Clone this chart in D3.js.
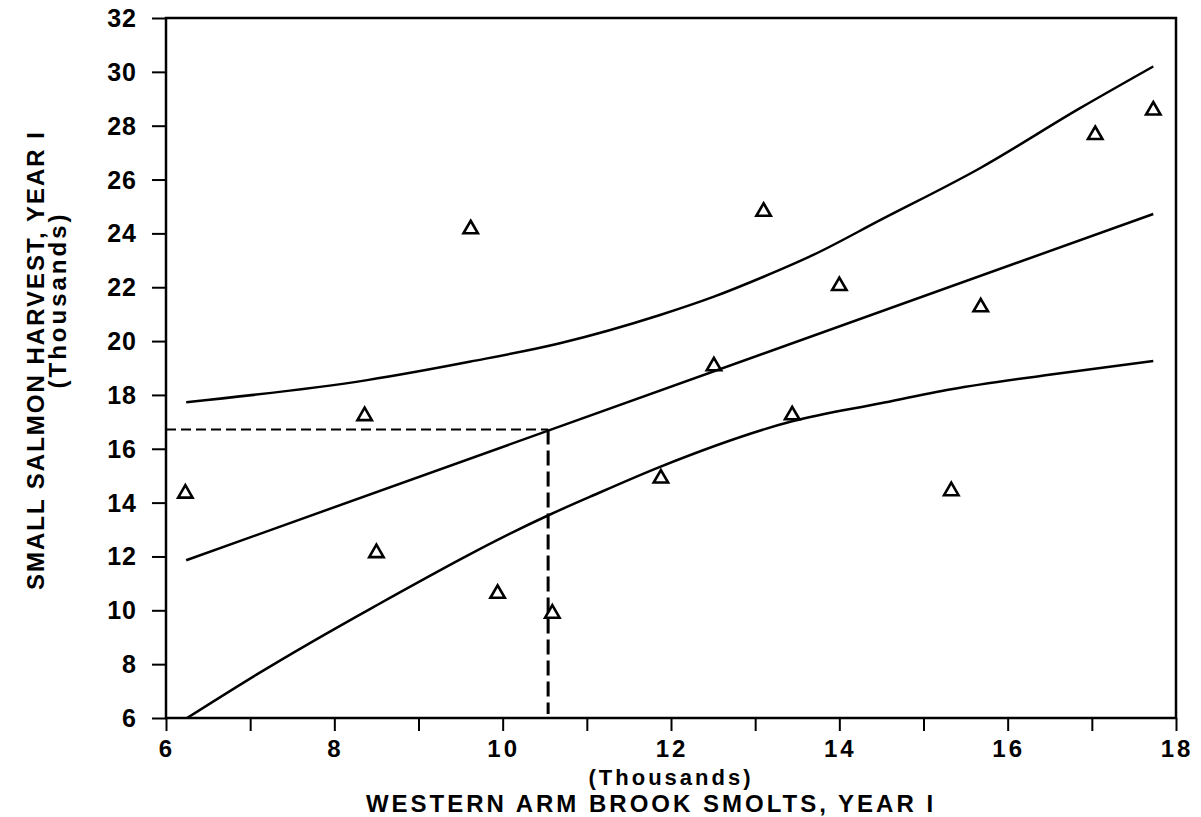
<!DOCTYPE html>
<html>
<head>
<meta charset="utf-8">
<script src="https://cdn.jsdelivr.net/npm/d3@7"></script>
<style>
  body { margin: 0; background: #fff; }
  text { font-family: "Liberation Sans", Arial, sans-serif; fill: #000; }
</style>
</head>
<body>
<div id="chart"></div>
<script>
// punkty pomiarowe (tys. smoltow, tys. ryb)
const smolts  = [6.23, 8.36, 8.50, 9.62, 9.94, 10.59, 11.88, 12.51, 13.10, 13.44, 14.00, 15.33, 15.68, 17.04, 17.73];
const harvest = [14.34, 17.22, 12.13, 24.16, 10.62, 9.88, 14.90, 19.07, 24.81, 17.25, 22.05, 14.43, 21.26, 27.66, 28.57];

// linia regresji
const fitX = [6.24, 17.73];
const fitY = [11.86, 24.72];

// gorna i dolna granica przedzialu ufnosci
const upperX = [6.24, 8.39, 9.62, 10.68, 11.87, 12.51, 13.10, 13.69, 14.49, 15.67, 16.86, 17.73];
const upperY = [17.73, 18.55, 19.24, 19.92, 20.97, 21.65, 22.39, 23.20, 24.50, 26.42, 28.65, 30.20];
const lowerX = [6.25, 7.08, 8.47, 10.55, 11.04, 11.87, 13.44, 14.49, 15.33, 16.47, 17.73];
const lowerY = [6.00, 7.62, 10.13, 13.54, 14.22, 15.33, 17.02, 17.69, 18.21, 18.74, 19.26];

// odczyt prognozy (linie przerywane)
const projX = 10.54;
const projY = 16.72;

const xTicks = [6, 7, 8, 9, 10, 11, 12, 13, 14, 15, 16, 17, 18];
const xLabels = [6, 8, 10, 12, 14, 16, 18];
const yTicks = [6, 8, 10, 12, 14, 16, 18, 20, 22, 24, 26, 28, 30, 32];

const width = 1201, height = 817;
const m = { left: 166, right: 1176, top: 18, bottom: 718 };

const svg = d3.select("#chart").append("svg")
  .attr("width", width)
  .attr("height", height);

const x = d3.scaleLinear().domain([6, 18]).range([m.left, m.right]);
const y = d3.scaleLinear().domain([6, 32]).range([m.bottom, m.top]);

// os X - kreski w dol
const xAxis = svg.append("g")
  .attr("transform", `translate(0,${m.bottom})`)
  .call(d3.axisBottom(x).tickValues(xTicks).tickSize(13).tickFormat(""));
xAxis.select(".domain").remove();
xAxis.selectAll("line").attr("stroke", "#000").attr("stroke-width", 2);

svg.selectAll(".xlab")
  .data(xLabels)
  .join("text")
  .attr("class", "xlab")
  .attr("x", d => x(d) + 1)
  .attr("y", 757)
  .attr("text-anchor", "middle")
  .attr("font-size", 24)
  .attr("font-weight", "bold")
  .attr("letter-spacing", 3)
  .text(d => d);

// os Y - kreski w lewo
const yAxis = svg.append("g")
  .attr("transform", `translate(${m.left},0)`)
  .call(d3.axisLeft(y).tickValues(yTicks).tickSize(14).tickFormat(""));
yAxis.select(".domain").remove();
yAxis.selectAll("line").attr("stroke", "#000").attr("stroke-width", 2);

svg.selectAll(".ylab")
  .data(yTicks)
  .join("text")
  .attr("class", "ylab")
  .attr("x", 137)
  .attr("y", d => y(d) + 9)
  .attr("text-anchor", "end")
  .attr("font-size", 25)
  .attr("font-weight", "bold")
  .attr("letter-spacing", 1)
  .text(d => d);

// ramka
svg.append("rect")
  .attr("x", m.left).attr("y", m.top)
  .attr("width", m.right - m.left).attr("height", m.bottom - m.top)
  .attr("fill", "none")
  .attr("stroke", "#000")
  .attr("stroke-width", 2.5);

const line = d3.line().x(d => x(d[0])).y(d => y(d[1]));
const smooth = d3.line().x(d => x(d[0])).y(d => y(d[1])).curve(d3.curveMonotoneX);

svg.append("path")
  .attr("d", line(fitX.map((v, i) => [v, fitY[i]])))
  .attr("fill", "none").attr("stroke", "#000").attr("stroke-width", 2.5);

svg.append("path")
  .attr("d", smooth(upperX.map((v, i) => [v, upperY[i]])))
  .attr("fill", "none").attr("stroke", "#000").attr("stroke-width", 2.5);

svg.append("path")
  .attr("d", smooth(lowerX.map((v, i) => [v, lowerY[i]])))
  .attr("fill", "none").attr("stroke", "#000").attr("stroke-width", 2.5);

// linie przerywane
svg.append("line")
  .attr("x1", x(6)).attr("x2", x(projX))
  .attr("y1", y(projY)).attr("y2", y(projY))
  .attr("stroke", "#000").attr("stroke-width", 2)
  .attr("stroke-dasharray", "10,5");

svg.append("line")
  .attr("x1", x(projX)).attr("x2", x(projX))
  .attr("y1", y(projY)).attr("y2", y(6) - 4)
  .attr("stroke", "#000").attr("stroke-width", 3)
  .attr("stroke-dasharray", "15,6");

// trojkaty
const tri = d3.symbol().type(d3.symbolTriangle).size(90);
svg.selectAll(".pt")
  .data(smolts.map((v, i) => [v, harvest[i]]))
  .join("path")
  .attr("class", "pt")
  .attr("d", tri)
  .attr("transform", d => `translate(${x(d[0])},${y(d[1])})`)
  .attr("fill", "none")
  .attr("stroke", "#000")
  .attr("stroke-width", 2.6);

// opisy osi
svg.append("text")
  .attr("x", 671).attr("y", 785)
  .attr("text-anchor", "middle")
  .attr("font-size", 22).attr("font-weight", "bold")
  .attr("letter-spacing", 3)
  .text("(Thousands)");

svg.append("text")
  .attr("x", 651).attr("y", 812)
  .attr("text-anchor", "middle")
  .attr("font-size", 24).attr("font-weight", "bold")
  .attr("letter-spacing", 3)
  .text("WESTERN ARM BROOK SMOLTS, YEAR I");

svg.append("text")
  .attr("transform", "translate(44,360) rotate(-90)")
  .attr("text-anchor", "middle")
  .attr("font-size", 24).attr("font-weight", "bold")
  .attr("letter-spacing", 2)
  .text("SMALL SALMON HARVEST, YEAR I");

svg.append("text")
  .attr("transform", "translate(66,300) rotate(-90)")
  .attr("text-anchor", "middle")
  .attr("font-size", 24).attr("font-weight", "bold")
  .attr("letter-spacing", 3)
  .text("(Thousands)");
</script>
</body>
</html>
